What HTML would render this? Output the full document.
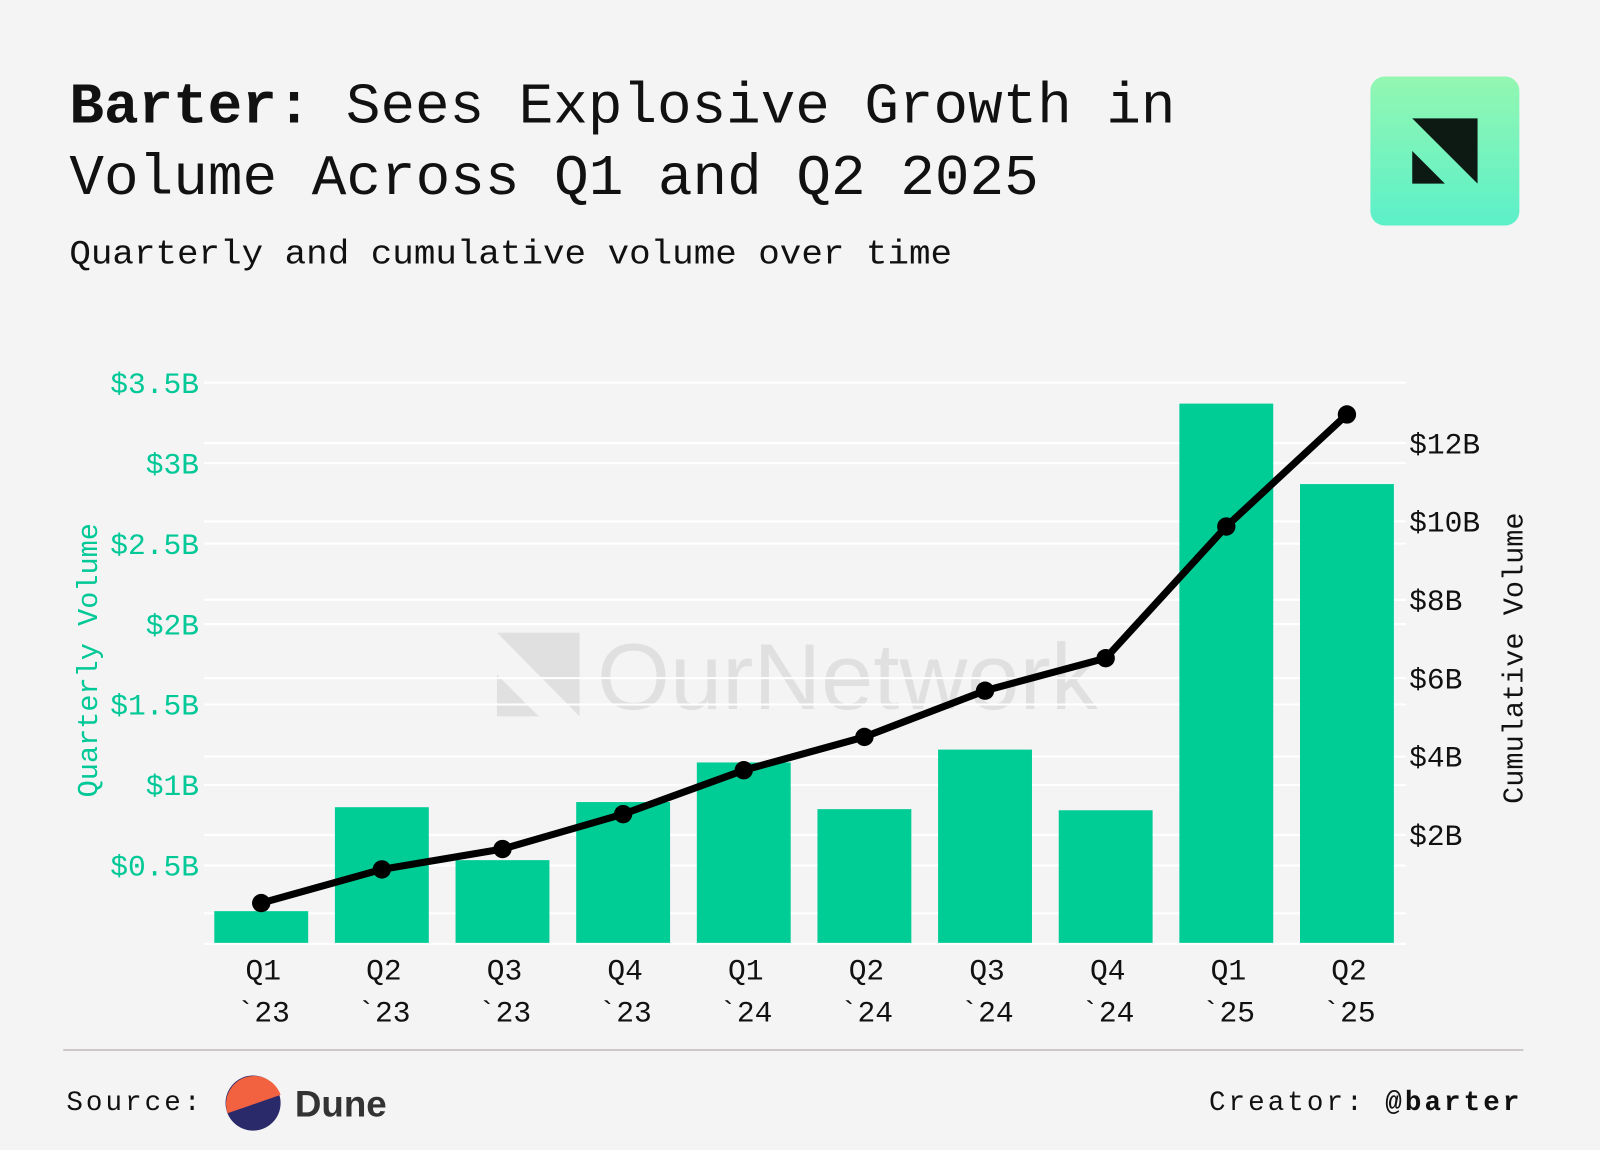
<!DOCTYPE html>
<html><head><meta charset="utf-8"><style>
html,body{margin:0;padding:0;background:#f4f4f4;}
svg{display:block;}
text{font-family:"Liberation Mono","DejaVu Sans Mono",monospace;}
</style></head><body>
<svg id="chart" width="1600" height="1150" viewBox="0 0 1568 1127" xmlns="http://www.w3.org/2000/svg">
<rect x="0" y="0" width="1568" height="1127" fill="#f4f4f4"/>
<defs><linearGradient id="lg" x1="0" y1="0" x2="0" y2="1"><stop offset="0" stop-color="#93f7b1"/><stop offset="1" stop-color="#5cf0c9"/></linearGradient></defs>
<text x="68" y="120" font-size="56" font-weight="bold" fill="#111" textLength="1084" lengthAdjust="spacingAndGlyphs">Barter:<tspan font-weight="normal"> Sees Explosive Growth in</tspan></text>
<text x="68" y="190" font-size="56" fill="#111" textLength="950" lengthAdjust="spacingAndGlyphs">Volume Across Q1 and Q2 2025</text>
<text x="68" y="258" font-size="34" fill="#111" textLength="865" lengthAdjust="spacingAndGlyphs">Quarterly and cumulative volume over time</text>
<g>
<rect x="1343" y="75" width="146" height="146" rx="14" fill="url(#lg)"/>
<polygon points="1384,116 1448,116 1448,180" fill="#0d1a14"/>
<polygon points="1384,148 1384,180 1416,180" fill="#0d1a14"/>
</g>
<g opacity="0.6">
<polygon points="487,620 568,620 568,702" fill="#d4d4d4"/>
<polygon points="487,661 487,702 528,702" fill="#d4d4d4"/>
<text x="585" y="695" font-size="92" fill="#d4d4d4" style="font-family:'Liberation Sans',sans-serif">OurNetwork</text>
</g>
<g id="grid"></g>
<g id="bars"></g>
<g id="line"></g>
<g id="axes"></g>
<text transform="translate(95,647) rotate(-90)" text-anchor="middle" font-size="28" fill="#00c896">Quarterly Volume</text>
<text transform="translate(1492,645) rotate(-90)" text-anchor="middle" font-size="28" fill="#111">Cumulative Volume</text>
<line x1="62" y1="1029" x2="1493" y2="1029" stroke="#ccc8c8" stroke-width="2"/>
<text x="65" y="1088" font-size="27" fill="#111" letter-spacing="3">Source:</text>
<g>
<circle cx="248" cy="1081" r="27" fill="#2a2a6a"/>
<path d="M 223 1091 A 27 27 0 1 1 275 1073 Z" fill="#f26241"/>
</g>
<text x="289" y="1094" font-size="36" font-weight="bold" fill="#333" style="font-family:'Liberation Sans',sans-serif">Dune</text>
<text x="1492" y="1088" text-anchor="end" font-size="27" fill="#111" letter-spacing="3">Creator: <tspan font-weight="bold">@barter</tspan></text>
</svg>
<script>
const categories = ["Q1|`23","Q2|`23","Q3|`23","Q4|`23","Q1|`24","Q2|`24","Q3|`24","Q4|`24","Q1|`25","Q2|`25"];
const quarterlyVolume = [0.216,0.862,0.533,0.894,1.14,0.85,1.22,0.843,3.37,2.87];
const cumulativeVolume = [0.26,1.12,1.64,2.53,3.65,4.5,5.68,6.51,9.87,12.73];
const leftTicks = [0.5,1,1.5,2,2.5,3,3.5];
const leftTickLabels = ["$0.5B","$1B","$1.5B","$2B","$2.5B","$3B","$3.5B"];
const rightTicks = [0,2,4,6,8,10,12];
const rightTickLabels = ["","$2B","$4B","$6B","$8B","$10B","$12B"];

const NS="http://www.w3.org/2000/svg";
const plotL=200, plotR=1378;
const yL=v=>927-v*157.7;
const yR=v=>895-v*38.4;
const step=(1320-256)/(categories.length-1);
const xC=i=>256+i*step;
const barW=92;
function mk(tag,attrs,parent){const e=document.createElementNS(NS,tag);for(const k in attrs)e.setAttribute(k,attrs[k]);parent.appendChild(e);return e;}
const grid=document.getElementById('grid'), bars=document.getElementById('bars'), line=document.getElementById('line'), axes=document.getElementById('axes');
leftTicks.forEach((t,i)=>{
  const l=mk('line',{x1:plotL,x2:plotR,y1:yL(t),y2:yL(t),stroke:'#ffffff','stroke-width':2},grid);
  
  
  const tx=mk('text',{x:195,y:yL(t)+10,'text-anchor':'end','font-size':29,fill:'#00c896'},axes);
  tx.textContent=leftTickLabels[i];
  
  
});
rightTicks.forEach((t,i)=>{
  const l=mk('line',{x1:plotL,x2:plotR,y1:yR(t),y2:yR(t),stroke:'#ffffff','stroke-width':2},grid);
  
  
  const tx=mk('text',{x:1381,y:yR(t)+10,'font-size':29,fill:'#111'},axes);
  tx.textContent=rightTickLabels[i];
  
  
});
const base=mk('line',{x1:plotL,x2:plotR,y1:925,y2:925,stroke:'#ffffff','stroke-width':2},grid);


quarterlyVolume.forEach((v,i)=>{
  const r=mk('rect',{x:xC(i)-barW/2,y:yL(v),width:barW,height:924-yL(v),fill:'#00cc96'},bars);
  
  
  const parts=categories[i].split('|');
  const t1=mk('text',{x:xC(i)+2,y:960,'text-anchor':'middle','font-size':29,fill:'#111'},axes);
  t1.textContent=parts[0];
  
  
  const t2=mk('text',{x:xC(i)+2,y:1001,'text-anchor':'middle','font-size':29,fill:'#111'},axes);
  t2.textContent=parts[1];
  
  
});
const pts=cumulativeVolume.map((v,i)=>xC(i)+','+yR(v)).join(' ');
const pl=mk('polyline',{points:pts,fill:'none',stroke:'#000','stroke-width':7,'stroke-linejoin':'round'},line);


cumulativeVolume.forEach((v,i)=>{
  const c=mk('circle',{cx:xC(i),cy:yR(v),r:9,fill:'#000'},line);
  
  
});
</script>
</body></html>
